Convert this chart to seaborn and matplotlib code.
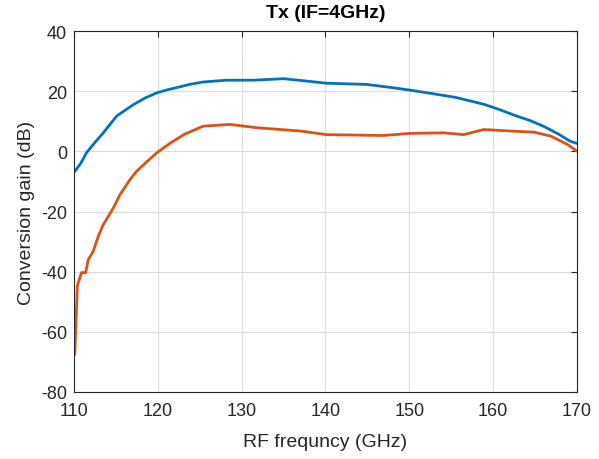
import numpy as np
import pandas as pd
import matplotlib
matplotlib.use("Agg")
import matplotlib.pyplot as plt
import seaborn as sns

# values
blue_freq = [110.0, 110.8, 111.5, 112.5, 113.5, 114.3, 115.1, 116.0, 117.1, 118.5,
             119.9, 121.0, 122.2, 123.8, 125.4, 128.2, 131.4, 135.0, 137.8, 140.1,
             144.9, 147.5, 150.1, 153.3, 155.5, 157.3, 159.0, 160.5, 162.8, 164.5,
             166.0, 167.8, 169.2, 170.0]
blue_gain = [-7.0, -4.0, -0.4, 3.0, 6.2, 9.0, 11.8, 13.5, 15.6, 17.8,
             19.5, 20.4, 21.2, 22.3, 23.1, 23.7, 23.7, 24.2, 23.4, 22.7,
             22.3, 21.4, 20.4, 19.0, 18.0, 16.8, 15.6, 14.2, 11.8, 10.2,
             8.4, 5.8, 3.4, 2.7]

orange_freq = [110.1, 110.4, 110.9, 111.4, 111.7, 112.3, 112.9, 113.5, 114.7, 115.5,
               116.7, 117.5, 118.7, 119.9, 121.5, 123.1, 125.4, 128.6, 131.8, 137.0,
               140.1, 146.9, 150.1, 154.1, 156.5, 158.9, 162.1, 164.9, 166.9, 168.9,
               170.0]
orange_gain = [-67.5, -44.7, -40.3, -40.3, -36.0, -33.2, -28.2, -24.3, -18.8, -14.3,
               -9.3, -6.5, -3.4, -0.4, 2.8, 5.6, 8.4, 9.0, 7.9, 6.8,
               5.6, 5.3, 6.0, 6.2, 5.6, 7.3, 6.8, 6.4, 5.1, 2.3,
               0.1]

x_ticks = [110, 120, 130, 140, 150, 160, 170]
y_ticks = [-80, -60, -40, -20, 0, 20, 40]

sns.set_style("whitegrid")
plt.rcParams["font.family"] = ["Liberation Sans", "DejaVu Sans"]
plt.rcParams["axes.unicode_minus"] = False

df = pd.concat([
    pd.DataFrame({"freq": blue_freq, "gain": blue_gain, "series": "a"}),
    pd.DataFrame({"freq": orange_freq, "gain": orange_gain, "series": "b"}),
])

fig = plt.figure(figsize=(5.99, 4.60), dpi=100)
ax = fig.add_axes([0.1235, 0.1457, 0.8395, 0.7843])

sns.lineplot(data=df, x="freq", y="gain", hue="series",
             palette={"a": "#0072BD", "b": "#D95319"},
             linewidth=2.0, legend=False, sort=False, ax=ax)

ax.set_xlim(110, 170)
ax.set_ylim(-80, 40)
ax.set_xticks(x_ticks)
ax.set_yticks(y_ticks)
ax.grid(True, color="#dcdcdc", linewidth=0.8)
for s in ax.spines.values():
    s.set_visible(True)
    s.set_color("#262626")
    s.set_linewidth(0.8)
ax.tick_params(direction="in", length=4, width=0.8, color="#262626",
               top=True, right=True, labelsize=13, labelcolor="#262626")
ax.tick_params(axis="x", pad=7)
ax.tick_params(axis="y", pad=5)

ax.set_xlabel("RF frequncy (GHz)", fontsize=14, color="#262626", labelpad=10)
ax.set_ylabel("Conversion gain (dB)", fontsize=14, color="#262626", labelpad=4)
ax.set_title("Tx (IF=4GHz)", fontsize=14, fontweight="bold", color="black", pad=10)

fig.savefig("out.png", dpi=100)
